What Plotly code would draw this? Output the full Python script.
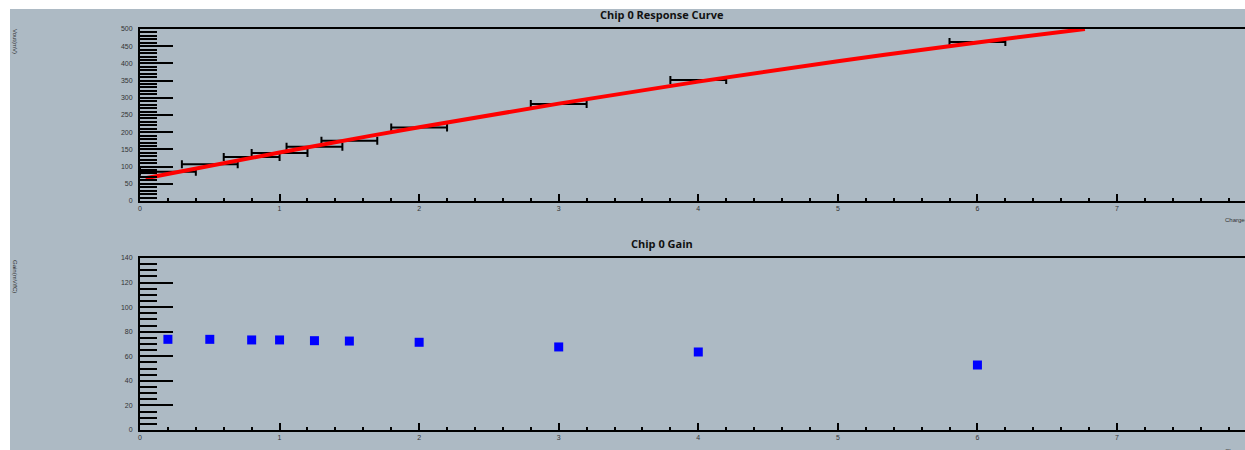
import plotly.graph_objects as go

# ---- data ----
charge = [0.2, 0.5, 0.8, 1.0, 1.25, 1.5, 2, 3, 4, 6]
vout = [85, 107, 128, 139.5, 158, 175, 214, 282, 352, 462]
charge_err = [0.2, 0.2, 0.2, 0.2, 0.2, 0.2, 0.2, 0.2, 0.2, 0.2]
gain = [73.8, 73.8, 73.3, 73.3, 72.7, 72.4, 71.4, 67.6, 63.5, 52.9]
fit_x = [0.04, 1, 2, 3, 4, 5, 6, 6.77]
fit_y = [66, 141, 214.5, 283, 347, 406.5, 461, 500]

title_top = "Chip 0 Response Curve"
title_bot = "Chip 0 Gain"
ytitle_top = "Vout(mV)"
ytitle_bot = "Gain(mV/fC)"
xtitle = "Charge(fC)"

# ---- layout geometry ----
W, H = 1245, 450
L, R, T, B = 140, 0, 29, 20
PW, PH = W - L - R, H - T - B
XMAX = PW / ((1117 - 140) / 7.0)
BG = "#adbac4"


def px(x):
    return (x - L) / PW


def py(y):
    return (H - B - y) / PH


fig = go.Figure()

fig.add_trace(go.Scatter(
    x=charge, y=vout, mode="markers",
    marker=dict(size=1, color="rgba(0,0,0,0)"),
    error_x=dict(type="data", array=charge_err, color="black", thickness=2, width=4),
    xaxis="x", yaxis="y", showlegend=False, hoverinfo="skip"))

fig.add_trace(go.Scatter(
    x=fit_x, y=fit_y, mode="lines", line=dict(color="#ff0000", width=4, shape="spline"),
    xaxis="x", yaxis="y", showlegend=False))

fig.add_trace(go.Scatter(
    x=charge, y=gain, mode="markers",
    marker=dict(symbol="square", size=9, color="#0000ff", line=dict(width=0)),
    xaxis="x2", yaxis="y2", showlegend=False))

tickfont = dict(family="Liberation Sans, Arial, sans-serif", size=7, color="#333333")

xcommon = dict(
    range=[0, XMAX], showline=True, linecolor="black", linewidth=2, mirror=True,
    ticks="inside", ticklen=7, tickwidth=2, tickcolor="black", dtick=1, tick0=0,
    minor=dict(ticks="inside", ticklen=3, tickwidth=2, tickcolor="black", dtick=0.2, showgrid=False),
    showgrid=False, zeroline=False, tickfont=tickfont, automargin=False, fixedrange=True)

ycommon = dict(
    showline=True, linecolor="black", linewidth=2, ticks="inside", ticklen=33,
    tickwidth=2, tickcolor="black", showgrid=False, zeroline=False,
    tickfont=tickfont, automargin=False, ticklabelstandoff=4)

fig.update_layout(
    width=W, height=H,
    margin=dict(l=L, r=R, t=T, b=B, pad=0),
    paper_bgcolor="white", plot_bgcolor=BG,
    xaxis=dict(domain=[0, 1], anchor="y", **xcommon),
    xaxis2=dict(domain=[0, 1], anchor="y2", **xcommon),
    yaxis=dict(domain=[py(201), 1], anchor="x", range=[0, 500], dtick=50,
               minor=dict(ticks="inside", ticklen=17, tickwidth=2, tickcolor="black", dtick=10, showgrid=False),
               **ycommon),
    yaxis2=dict(domain=[0, py(258)], anchor="x2", range=[0, 140], dtick=20,
                minor=dict(ticks="inside", ticklen=17, tickwidth=2, tickcolor="black", dtick=5, showgrid=False),
                **ycommon),
    shapes=[dict(type="rect", xref="paper", yref="paper",
                 x0=px(10), x1=px(W + 5), y0=py(H + 5), y1=py(9),
                 fillcolor=BG, line=dict(width=0), layer="below")],
    annotations=[
        dict(text="<b>" + title_top + "</b>", xref="paper", yref="paper", x=px(662), y=py(15),
             xanchor="center", yanchor="middle", showarrow=False,
             font=dict(family="Open Sans, sans-serif", size=11, color="#111111")),
        dict(text="<b>" + title_bot + "</b>", xref="paper", yref="paper", x=px(662), y=py(243),
             xanchor="center", yanchor="middle", showarrow=False,
             font=dict(family="Open Sans, sans-serif", size=11, color="#111111")),
        dict(text=ytitle_top, xref="paper", yref="paper", x=px(15), y=py(41),
             xanchor="center", yanchor="middle", showarrow=False, textangle=90,
             font=dict(family="Liberation Sans, Arial, sans-serif", size=6, color="#333333")),
        dict(text=ytitle_bot, xref="paper", yref="paper", x=px(15), y=py(276),
             xanchor="center", yanchor="middle", showarrow=False, textangle=90,
             font=dict(family="Liberation Sans, Arial, sans-serif", size=6, color="#333333")),
        dict(text=xtitle, xref="paper", yref="paper", x=px(1223), y=py(220.5),
             xanchor="left", yanchor="middle", showarrow=False,
             font=dict(family="Liberation Sans, Arial, sans-serif", size=6, color="#333333")),
        dict(text=xtitle, xref="paper", yref="paper", x=px(1223), y=py(450.5),
             xanchor="left", yanchor="middle", showarrow=False,
             font=dict(family="Liberation Sans, Arial, sans-serif", size=6, color="#333333")),
    ],
)

fig.write_html("out.html")
